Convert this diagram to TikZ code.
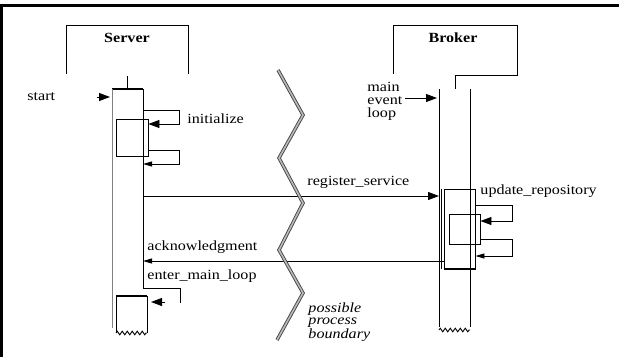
\documentclass[tikz,border=0pt]{standalone}
\usepackage{fontspec}
\setmainfont{Liberation Serif}[FakeStretch=1.15]
\usetikzlibrary{arrows.meta,decorations.pathmorphing,calc}

\tikzset{
  lbl/.style={font=\fontsize{14}{13}\selectfont, inner sep=0pt, anchor=base west},
  multi/.style={font=\fontsize{14}{13}\selectfont, inner sep=0pt, anchor=north west, align=left},
  title/.style={font=\fontsize{14}{14}\selectfont\bfseries, inner sep=0pt},
  bigtip/.style={-{Triangle[length=11pt,width=8pt]}},
  smalltip/.style={-{Triangle[length=9pt,width=5pt]}},
  inbox/.style={draw, inner sep=0pt},
  wavy/.style={decorate, decoration={zigzag, amplitude=1.8pt, segment length=5pt}},
  boundary/.style={draw=gray!55!black, double=gray!55, double distance=1.6pt, line width=0.9pt}
}

\begin{document}
\begin{tikzpicture}[
  x=1pt, y=-1pt,
  line width=0.9pt
]
  \useasboundingbox (0,0) rectangle (619,357);
  \draw[line width=3pt] (1,357) -- (1,5.5) -- (619,5.5);

  % Server
  \draw (66,74) -- (66,25) -- (188,25) -- (188,74);
  \node[title] (srv) at (127,38) {Server};
  \coordinate (srvTL) at (112,89);
  \coordinate (srvTR) at (143,89);
  \draw (srv.south |- 0,76) -- (srv.south |- srvTL);
  \draw[line width=2pt] (srvTL) -- (srvTR);
  \draw[gray] (srvTL) -- ++(0,239);
  \draw (srvTR) -- ++(0,199) coordinate (srvEnd);

  % start
  \node[lbl] (start) at (27,100) {start};
  \coordinate (startin) at (97,97);
  \draw[bigtip, shorten >=2pt] (startin) -- (startin -| srvTL);

  % initialize
  \node[inbox, minimum width=32pt, minimum height=37pt] (initbox) at (132,137.5) {};
  \draw[bigtip] (srvTR |- 0,110) -- ++(36,0) |- (initbox.east |- 0,124);
  \draw[smalltip] (initbox.east |- 0,150) -- ++(31,0) |- (srvTR |- 0,164);
  \node[lbl] (initlbl) at (187,123) {initialize};

  % Broker
  \draw (393,74) -- (393,25) -- (517,25) -- (517,75) -- (455,75) -- (455,89);
  \node[title] (brk) at (453,38) {Broker};
  \coordinate (brkTL) at (439,89);
  \coordinate (brkTR) at (470,89);
  \draw (brkTL) -- ++(0,238);
  \draw (brkTR) -- ++(0,238);
  \draw[wavy] (brkTL |- 0,330) -- (brkTR |- 0,330);

  % main event loop
  \node[multi] (evloop) at (367,82) {main\\event\\loop};
  \coordinate (evin) at (405,98);
  \draw[bigtip, shorten >=2pt] (evin) -- (evin -| brkTL);

  % activation + update_repository
  \node[draw, inner sep=0pt, minimum width=31pt, minimum height=80pt] (brkact) at (459.5,229) {};
  \draw[line width=2pt] (brkact.south west) -- (brkact.south east);
  \draw ($(brkact.north west)+(-2.5,0)$) -- ($(brkact.south west)+(-2.5,0)$);
  \node[inbox, minimum width=31pt, minimum height=30pt] (updbox) at (464.5,229) {};
  \draw[bigtip] (brkact.east |- 0,205) -- ++(37,0) |- (updbox.east |- 0,221);
  \draw[smalltip] (updbox.east |- 0,239) -- ++(32,0) |- (brkact.east |- 0,256);
  \node[lbl] (updlbl) at (480,194) {update\_repository};

  % messages
  \draw[bigtip] (srvTR |- 0,196) -- (brkTL |- 0,196);
  \node[lbl] (reglbl) at (307,185) {register\_service};
  \draw[smalltip] (brkact.west |- 0,261) -- (srvTR |- 0,261);
  \node[lbl] (acklbl) at (147,250) {acknowledgment};

  % enter main loop
  \draw (srvEnd) -- ++(37,0) -- ++(0,15) coordinate (emlEnd);
  \node[lbl] (emllbl) at (147,279) {enter\_main\_loop};
  \draw[bigtip] ($(emlEnd)+(-15,-1)$) -- ($(emlEnd)+(-29,-1)$);
  \coordinate (emlTL) at (116,296);
  \coordinate (emlTR) at (147,296);
  \draw (emlTL) -- ++(0,37) coordinate (emlBL);
  \draw (emlTR) -- ++(0,37) coordinate (emlBR);
  \draw[line width=2pt] (emlTL) -- (emlTR);
  \draw[wavy] (emlBL) -- (emlBR);

  % process boundary
  \draw[boundary] (278,70) -- (303,115) -- (279,158) -- (303,203) -- (279,250) -- (303,293) -- (277,340);
  \node[multi, font=\fontsize{14}{12.5}\selectfont\itshape] (bound) at (308,302) {possible\\process\\boundary};
\end{tikzpicture}
\end{document}
